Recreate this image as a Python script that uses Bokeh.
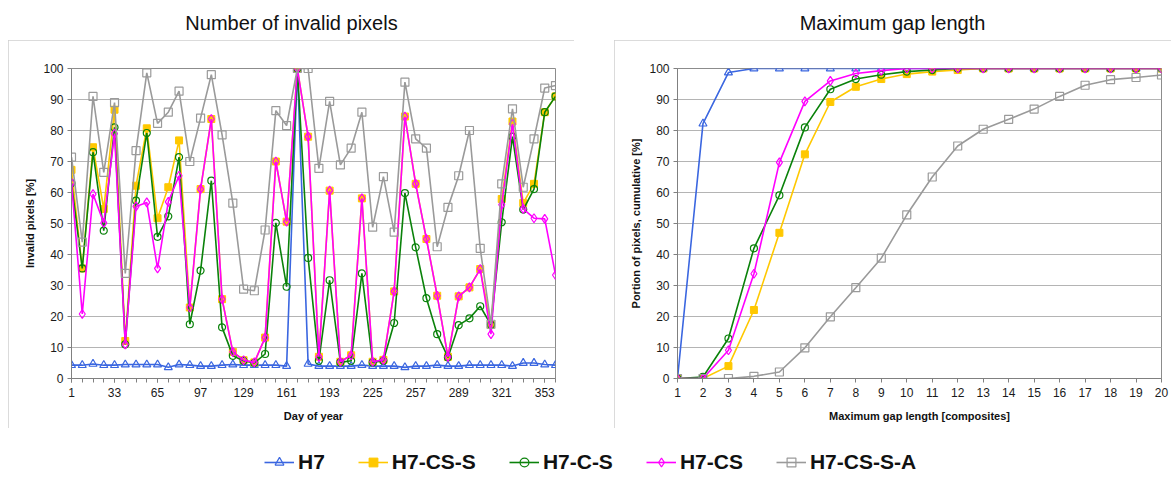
from bokeh.plotting import figure
from bokeh.models import Range1d, FixedTicker, Legend, LegendItem, Label, Spacer
from bokeh.layouts import column, row
from bokeh.embed import file_html
from bokeh.resources import INLINE

# ---------------- data ----------------
days = [1, 9, 17, 25, 33, 41, 49, 57, 65, 73, 81, 89, 97, 105, 113, 121, 129, 137,
        145, 153, 161, 169, 177, 185, 193, 201, 209, 217, 225, 233, 241, 249, 257,
        265, 273, 281, 289, 297, 305, 313, 321, 329, 337, 345, 353, 361]
day_ticks = [1, 33, 65, 97, 129, 161, 193, 225, 257, 289, 321, 353]
pct_ticks = [0, 10, 20, 30, 40, 50, 60, 70, 80, 90, 100]
gap_lengths = [1, 2, 3, 4, 5, 6, 7, 8, 9, 10, 11, 12, 13, 14, 15, 16, 17, 18, 19, 20]

series_names = ["H7", "H7-CS-S", "H7-C-S", "H7-CS", "H7-CS-S-A"]

invalid_h7 = [4.3, 4.3, 4.7, 4.3, 4.3, 4.5, 4.5, 4.5, 4.5, 3.6, 4.5, 4.3, 4.0, 4.0, 4.3,
              4.5, 4.3, 4.3, 4.3, 4.3, 4.0, 100, 4.7, 4.0, 4.0, 4.0, 4.0, 4.3, 4.0, 4.0,
              4.0, 3.6, 4.0, 4.0, 4.3, 4.0, 4.0, 4.3, 4.3, 4.3, 4.3, 4.0, 5.0, 5.0, 4.5, 4.3]
invalid_h7_cs_s = [67.3, 35.5, 74.6, 54.7, 86.7, 12.1, 62.2, 80.7, 51.7, 61.7, 76.8, 22.9,
                   61.1, 83.7, 25.6, 8.6, 5.9, 5.2, 13.2, 70.0, 50.6, 100, 78.0, 7.0, 60.6,
                   5.4, 7.5, 58.1, 5.4, 6.0, 28.1, 84.5, 62.8, 45.0, 26.7, 7.0, 26.5, 29.4,
                   35.3, 17.3, 57.9, 82.9, 56.6, 62.8, 85.9, 91.0]
invalid_h7_c_s = [63.0, 35.5, 73.0, 47.7, 81.0, 11.0, 57.4, 79.2, 45.7, 52.3, 71.4, 17.5,
                  34.8, 63.8, 16.5, 7.3, 5.7, 5.0, 7.9, 50.2, 29.6, 100, 38.9, 5.7, 31.7,
                  5.2, 5.7, 33.9, 5.2, 5.7, 17.9, 59.8, 42.3, 25.9, 14.3, 6.8, 17.2, 19.4,
                  23.3, 17.3, 50.4, 78.0, 54.5, 61.1, 85.9, 91.0]
invalid_h7_cs = [63.1, 20.8, 59.5, 50.2, 79.0, 11.0, 55.5, 56.8, 35.5, 57.0, 65.4, 22.9,
                 61.1, 83.7, 25.6, 8.6, 5.9, 5.2, 13.2, 70.0, 50.6, 100, 78.0, 7.0, 60.6,
                 5.4, 7.5, 58.1, 5.4, 6.0, 28.1, 84.5, 62.8, 45.0, 26.7, 7.0, 26.5, 29.4,
                 35.3, 14.3, 56.1, 82.1, 54.7, 51.7, 51.5, 33.4]
invalid_h7_cs_s_a = [71.4, 44.0, 91.0, 66.5, 89.0, 33.9, 73.5, 98.6, 82.3, 85.9, 92.7, 70.0,
                     84.0, 98.0, 78.6, 56.6, 28.8, 28.3, 47.9, 86.4, 81.6, 100, 100, 67.8,
                     89.4, 68.9, 74.3, 85.9, 48.8, 65.1, 47.2, 95.6, 77.3, 74.3, 42.5, 55.2,
                     65.4, 80.0, 42.0, 17.5, 62.8, 87.0, 61.7, 77.3, 93.7, 94.5]

gap_h7 = [0, 82.2, 98.7, 100, 100, 100, 100, 100, 100, 100, 100, 100, 100, 100, 100, 100,
          100, 100, 100, 100]
gap_h7_cs_s = [0, 0, 4.0, 22.1, 47.0, 72.3, 89.2, 94.1, 96.6, 98.2, 99.0, 99.5, 100, 100,
               100, 100, 100, 100, 100, 100]
gap_h7_c_s = [0, 0.5, 12.9, 42.0, 59.1, 81.0, 93.3, 96.6, 98.0, 99.0, 99.5, 100, 100, 100,
              100, 100, 100, 100, 100, 100]
gap_h7_cs = [0, 0, 9.1, 33.8, 69.7, 89.4, 96.0, 98.4, 99.3, 100, 100, 100, 100, 100, 100,
             100, 100, 100, 100, 100]
gap_h7_cs_s_a = [0, 0, 0, 0.7, 2.1, 9.9, 19.9, 29.3, 38.8, 52.8, 65.0, 75.0, 80.4, 83.6,
                 86.9, 91.0, 94.6, 96.4, 97.1, 97.9]

invalid_series = [invalid_h7, invalid_h7_cs_s, invalid_h7_c_s, invalid_h7_cs, invalid_h7_cs_s_a]
gap_series = [gap_h7, gap_h7_cs_s, gap_h7_c_s, gap_h7_cs, gap_h7_cs_s_a]

# ---------------- styles ----------------
FONT = "Liberation Sans"
STYLE = {
    "H7":        dict(color="#3a66e0", marker="triangle", fill=None, size=8),
    "H7-CS-S":   dict(color="#ffc800", marker="square", fill="#ffc800", size=7),
    "H7-C-S":    dict(color="#0a820a", marker="circle", fill=None, size=7),
    "H7-CS":     dict(color="#ff00ff", marker="diamond", fill=None, size=9),
    "H7-CS-S-A": dict(color="#9a9a9a", marker="square", fill=None, size=8),
}


def add_series(p, x, y, name):
    st = STYLE[name]
    ln = p.line(x, y, line_color=st["color"], line_width=1.6)
    if st["fill"] is None:
        sc = p.scatter(x, y, marker=st["marker"], size=st["size"], line_color=st["color"],
                       line_width=1.2, fill_alpha=0)
    else:
        sc = p.scatter(x, y, marker=st["marker"], size=st["size"], line_color=st["color"],
                       line_width=1.0, fill_color=st["fill"])
    return [ln, sc]


def style_panel(p, xticks, xminor, xlabel, ylabel):
    p.xaxis.ticker = FixedTicker(ticks=xticks, minor_ticks=xminor)
    p.yaxis.ticker = FixedTicker(ticks=pct_ticks)
    p.xgrid.visible = False
    p.ygrid.grid_line_color = "#b4b4b4"
    p.ygrid.grid_line_width = 1
    p.outline_line_color = "#8c8c8c"
    p.outline_line_width = 1
    for ax in (p.xaxis[0], p.yaxis[0]):
        ax.axis_line_color = "#808080"
        ax.major_tick_line_color = "#808080"
        ax.minor_tick_line_color = "#808080"
        ax.major_tick_in = 0
        ax.major_tick_out = 4
        ax.minor_tick_in = 0
        ax.minor_tick_out = 4
        ax.major_label_text_font = FONT
        ax.major_label_text_font_size = "12px"
        ax.major_label_text_color = "#1a1a1a"
        ax.axis_label_text_font = FONT
        ax.axis_label_text_font_size = "11px"
        ax.axis_label_text_font_style = "bold"
        ax.axis_label_text_color = "#111111"
    p.yaxis.minor_tick_line_color = None
    p.xaxis.axis_label = xlabel
    p.yaxis.axis_label = ylabel
    p.xaxis.major_label_standoff = 5
    p.yaxis.major_label_standoff = 4
    p.xaxis.axis_label_standoff = 10
    p.yaxis.axis_label_standoff = 4
    p.background_fill_color = "white"
    p.border_fill_color = "white"
    p.styles = {"outline": "1px solid #cfcfcf", "outline-offset": "-1px"}


# ---------------- left panel ----------------
p1 = figure(width=566, height=388, x_range=Range1d(1, 361), y_range=Range1d(0, 100),
            output_backend="svg", toolbar_location=None,
            min_border_left=63, min_border_right=19, min_border_top=28, min_border_bottom=50)
for name, vals in zip(series_names, invalid_series):
    add_series(p1, days, vals, name)
style_panel(p1, day_ticks, days, "Day of year", "Invalid pixels [%]")

# ---------------- right panel ----------------
p2 = figure(width=557, height=388, x_range=Range1d(1, 20), y_range=Range1d(0, 100),
            output_backend="svg", toolbar_location=None,
            min_border_left=63, min_border_right=10, min_border_top=28, min_border_bottom=50)
for name, vals in zip(series_names, gap_series):
    add_series(p2, gap_lengths, vals, name)
style_panel(p2, gap_lengths, [], "Maximum gap length [composites]",
            "Portion of pixels, cumulative [%]")

# ---------------- title strip ----------------
pt = figure(width=1171, height=40, x_range=Range1d(0, 1), y_range=Range1d(0, 1),
            output_backend="svg", toolbar_location=None,
            x_axis_location=None, y_axis_location=None,
            min_border=0, min_border_left=0, min_border_right=0,
            min_border_top=0, min_border_bottom=0)
pt.grid.visible = False
pt.outline_line_color = None
for txt, xc in (("Number of invalid pixels", 291), ("Maximum gap length", 892)):
    pt.add_layout(Label(x=xc, y=18, x_units="screen", y_units="screen", text=txt,
                        text_align="center", text_baseline="middle",
                        text_font=FONT, text_font_size="20px", text_color="#111111"))

# ---------------- legend strip ----------------
pl = figure(width=1171, height=51, x_range=Range1d(0, 1), y_range=Range1d(-10, -9),
            output_backend="svg", toolbar_location=None,
            x_axis_location=None, y_axis_location=None,
            min_border=0, min_border_left=0, min_border_right=0,
            min_border_top=0, min_border_bottom=0)
pl.grid.visible = False
pl.outline_line_color = None
items = []
for name, vals in zip(series_names, gap_series):
    rs = add_series(pl, gap_lengths, vals, name)
    items.append(LegendItem(label=name, renderers=rs))
legend = Legend(items=items, orientation="horizontal", location=(264, 5),
                glyph_width=30, glyph_height=22, label_standoff=4, spacing=33,
                padding=0, margin=0, border_line_color=None, background_fill_alpha=0,
                label_text_font=FONT, label_text_font_size="21px",
                label_text_font_style="bold", label_text_color="#111111",
                label_height=22)
pl.add_layout(legend, "center")

layout = column(pt,
                row(Spacer(width=8, height=388), p1, Spacer(width=40, height=388), p2),
                pl)

open("out.html", "w").write(file_html(layout, INLINE))
